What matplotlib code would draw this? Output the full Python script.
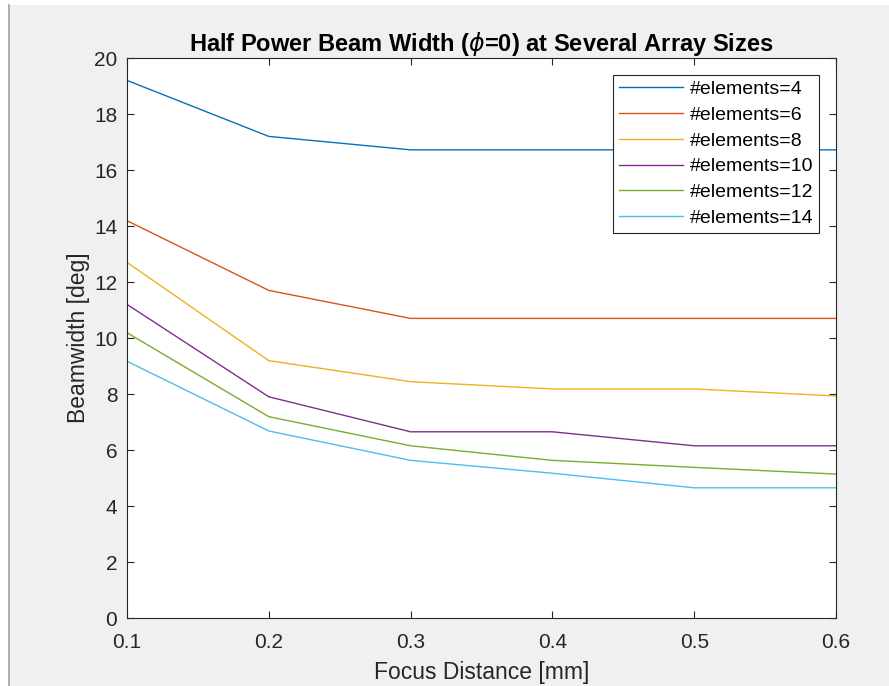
import matplotlib
matplotlib.use("Agg")
import matplotlib.pyplot as plt
from matplotlib.patches import Rectangle
from matplotlib.lines import Line2D

# focus distance [mm]
focus = [0.1, 0.2, 0.3, 0.4, 0.5, 0.6]

# half power beamwidth [deg] per array size
bw_4 = [19.2, 17.2, 16.72, 16.72, 16.72, 16.72]
bw_6 = [14.19, 11.7, 10.7, 10.7, 10.7, 10.7]
bw_8 = [12.7, 9.19, 8.44, 8.18, 8.18, 7.93]
bw_10 = [11.2, 7.9, 6.65, 6.65, 6.15, 6.15]
bw_12 = [10.19, 7.19, 6.15, 5.63, 5.38, 5.14]
bw_14 = [9.17, 6.68, 5.63, 5.17, 4.65, 4.65]

labels = ["#elements=4", "#elements=6", "#elements=8",
          "#elements=10", "#elements=12", "#elements=14"]
colors = ["#0072BD", "#D95319", "#EDB120", "#7E2F8E", "#77AC30", "#4DBEEE"]

plt.rcParams['font.family'] = ['Liberation Sans', 'DejaVu Sans']

W, H = 889, 686
fig = plt.figure(figsize=(W / 100, H / 100), dpi=100, facecolor="white")

# MATLAB-style grey figure window with thin left edge
fig.patches.append(Rectangle((9 / W, 0), 1, (H - 5) / H, transform=fig.transFigure,
                             facecolor="#f0f0f0", edgecolor="none", zorder=-10))
fig.add_artist(Line2D([8.5 / W, 8.5 / W], [0, (H - 5) / H], transform=fig.transFigure,
                      color="#a0a0a0", linewidth=1.2))

ax = fig.add_axes([127 / W, 68 / H, 709 / W, 560 / H])
ax.set_facecolor("white")

for series, lab, col in zip([bw_4, bw_6, bw_8, bw_10, bw_12, bw_14], labels, colors):
    ax.plot(focus, series, color=col, linewidth=1.0, label=lab)

ax.set_xlim(0.1, 0.6)
ax.set_ylim(0, 20)
ax.set_xticks(focus)
ax.set_xticklabels(["0.1", "0.2", "0.3", "0.4", "0.5", "0.6"])
ax.set_yticks(range(0, 21, 2))
ax.tick_params(direction="in", length=5, width=0.8, top=True, right=True,
               labelsize=15, colors="#262626")
ax.tick_params(axis="x", pad=11)
ax.tick_params(axis="y", pad=7)
for sp in ax.spines.values():
    sp.set_color("#262626")
    sp.set_linewidth(0.8)

ax.set_xlabel("Focus Distance [mm]", fontsize=16.5, color="#262626", labelpad=6)
ax.set_ylabel("Beamwidth [deg]", fontsize=16.5, color="#262626", labelpad=3)
ax.set_title(r"Half Power Beam Width ($\phi$=0) at Several Array Sizes",
             fontsize=17, fontweight="bold", color="black", pad=5)

leg = ax.legend(loc="upper right", fontsize=14, handlelength=3.3,
                borderaxespad=0.85, borderpad=0.3, fancybox=False, framealpha=1,
                edgecolor="#262626", labelspacing=0.42, handletextpad=0.35)
leg.get_frame().set_linewidth(0.8)

fig.savefig("out.png", dpi=100, facecolor=fig.get_facecolor())
